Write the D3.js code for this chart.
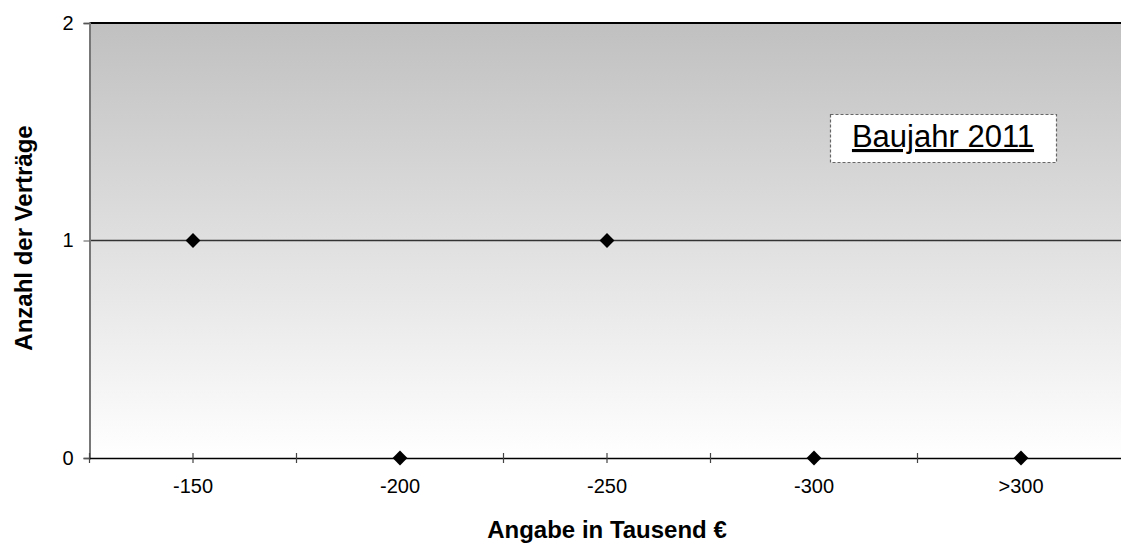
<!DOCTYPE html>
<html>
<head>
<meta charset="utf-8">
<script src="https://cdn.jsdelivr.net/npm/d3@7"></script>
<style>
  body { margin: 0; background: #fff; }
  text { font-family: "Liberation Sans", Arial, sans-serif; }
</style>
</head>
<body>
<div id="chart"></div>
<script>
// data
var categories = ["-150", "-200", "-250", "-300", ">300"];
var counts = [1, 0, 1, 0, 0];
var yTicks = [0, 1, 2];
var boxLabel = "Baujahr 2011";

var W = 1121, H = 543;
var plotLeft = 89.5, plotTop = 23, plotBottom = 458, plotRight = 1124.5;

var svg = d3.select("#chart").append("svg")
    .attr("width", W)
    .attr("height", H);

var x = d3.scaleBand().domain(categories).range([plotLeft, plotRight]).padding(0);
var y = d3.scaleLinear().domain([0, 2]).range([plotBottom, plotTop]);

// background gradient
var grad = svg.append("defs").append("linearGradient")
    .attr("id", "bg").attr("x1", 0).attr("y1", 0).attr("x2", 0).attr("y2", 1);
grad.append("stop").attr("offset", "0%").attr("stop-color", "#c0c0c0");
grad.append("stop").attr("offset", "100%").attr("stop-color", "#ffffff");

svg.append("rect")
    .attr("x", plotLeft).attr("y", plotTop)
    .attr("width", plotRight - plotLeft).attr("height", plotBottom - plotTop)
    .attr("fill", "url(#bg)");

// gridlines
svg.append("g").selectAll("line")
    .data(yTicks.filter(function(d) { return d > 0; }))
    .enter().append("line")
    .attr("x1", plotLeft).attr("x2", plotRight)
    .attr("y1", function(d) { return y(d); })
    .attr("y2", function(d) { return y(d); })
    .attr("stroke", function(d) { return d == 2 ? "#000" : "#333"; })
    .attr("stroke-width", function(d) { return d == 2 ? 2 : 1.3; });

// y axis
var yAxis = svg.append("g")
    .attr("transform", "translate(" + plotLeft + ",0)")
    .call(d3.axisLeft(y).tickValues(yTicks).tickFormat(d3.format("d")).tickSize(6).tickPadding(10));
yAxis.select(".domain").attr("stroke", "#777").attr("stroke-width", 2);
yAxis.selectAll(".tick line").attr("stroke", "#555");
yAxis.selectAll(".tick text").attr("font-size", 20).attr("fill", "#000")
    .attr("font-family", "Liberation Sans, Arial, sans-serif");

// x axis
var xAxis = svg.append("g")
    .attr("transform", "translate(0," + plotBottom + ")")
    .call(d3.axisBottom(x).tickSize(0).tickPadding(21));
xAxis.select(".domain").attr("stroke", "#000").attr("stroke-width", 1.5);
xAxis.selectAll(".tick text").attr("font-size", 20).attr("fill", "#000")
    .attr("font-family", "Liberation Sans, Arial, sans-serif");

// x ticks at band edges and centres, crossing the axis
var tickPos = [];
categories.forEach(function(c) {
    tickPos.push(x(c));
    tickPos.push(x(c) + x.bandwidth() / 2);
});
svg.append("g").selectAll("line")
    .data(tickPos)
    .enter().append("line")
    .attr("x1", function(d) { return d; }).attr("x2", function(d) { return d; })
    .attr("y1", plotBottom - 5).attr("y2", plotBottom + 5)
    .attr("stroke", "#444").attr("stroke-width", 1.2);

// markers
svg.append("g").selectAll("path")
    .data(categories)
    .enter().append("path")
    .attr("d", d3.symbol().type(d3.symbolDiamond2).size(140))
    .attr("transform", function(d, i) {
        return "translate(" + (x(d) + x.bandwidth() / 2) + "," + y(counts[i]) + ")";
    })
    .attr("fill", "#000");

// axis titles
svg.append("text")
    .attr("x", 607).attr("y", 538)
    .attr("text-anchor", "middle")
    .attr("font-size", 24).attr("font-weight", "bold")
    .text("Angabe in Tausend €");

svg.append("text")
    .attr("transform", "translate(32,238) rotate(-90)")
    .attr("text-anchor", "middle")
    .attr("font-size", 24).attr("font-weight", "bold")
    .text("Anzahl der Verträge");

// label box
svg.append("rect")
    .attr("x", 830.5).attr("y", 114.5)
    .attr("width", 226).attr("height", 48)
    .attr("fill", "#fff")
    .attr("stroke", "#666").attr("stroke-width", 1.2)
    .attr("stroke-dasharray", "3,2");

svg.append("text")
    .attr("x", 943).attr("y", 147)
    .attr("text-anchor", "middle")
    .attr("font-size", 31)
    .attr("text-decoration", "underline")
    .text(boxLabel);
</script>
</body>
</html>
